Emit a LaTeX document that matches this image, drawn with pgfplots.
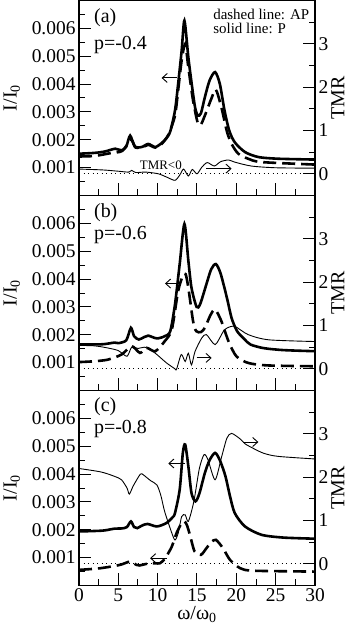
\documentclass[border=0pt]{standalone}
\usepackage{fontspec}
\setmainfont{Liberation Serif}
\usepackage{pgfplots}
\pgfplotsset{compat=1.18}
\usetikzlibrary{arrows.meta}
\tikzset{
  arr/.style={black, line width=0.9bp, -{Straight Barb[length=5bp,width=9bp]}},
  lab/.style={font=\fontsize{20}{22}\selectfont, inner sep=0pt}
}
\pgfplotsset{
  common/.style={scale only axis, width=236bp, height=195bp, xmin=0, xmax=30,
    tick align=inside, major tick length=12bp, minor tick length=6bp,
    every tick/.style={black, line width=1bp},
    axis line style={line width=1.5bp},
    tick label style={font=\fontsize{19.5}{22}\selectfont},
    /pgf/number format/assume math mode=true,
    clip=true},
  leftax/.style={common, ymin=0, ymax=7, tick pos=left,
    xtick={0,5,...,30}, minor xtick={2.5,7.5,...,27.5},
    ytick={1,2,3,4,5,6}, minor ytick={0.5,1.5,...,6.5},
    yticklabels={0.001,0.002,0.003,0.004,0.005,0.006},
    ylabel={I/I\textsubscript{0}},
    every axis y label/.style={at={(axis description cs:-0.285,0.5)}, rotate=90, anchor=center, font=\fontsize{20}{22}\selectfont},
    every axis x label/.style={at={(axis description cs:0.5,-0.15)}, anchor=center, font=\fontsize{20}{22}\selectfont}},
  rightax/.style={common, ymin=-0.5, ymax=4, axis y line*=right, axis x line=none,
    ytick={0,1,2,3}, minor ytick={-0.5,0.5,1.5,2.5,3.5},
    ylabel={TMR},
    every axis y label/.style={at={(axis description cs:1.097,0.5)}, rotate=90, anchor=center, font=\fontsize{20}{22}\selectfont}},
  P/.style={black, line width=2.6bp, smooth, tension=0.45},
  AP/.style={black, line width=2.6bp, dash pattern=on 13bp off 6bp, smooth, tension=0.45},
  TMR/.style={black, line width=0.9bp, smooth, tension=0.45},
  zero/.style={black, line width=1.1bp, dash pattern=on 1.2bp off 3.3bp}
}
\begin{document}
\begin{tikzpicture}
\path[use as bounding box] (-79bp,-48.5bp) rectangle (274bp,585.5bp);
% ---------------- panel (a) ----------------
\begin{axis}[leftax, at={(0,390bp)}, xticklabels=\empty]
\addplot[AP] coordinates {(0,1.40) (2,1.42) (4,1.52) (5.5,1.60) (6.6,2.0) (7.2,1.72) (8.0,1.72) (8.8,1.82) (9.7,1.72) (10.5,1.85) (11.4,2.2) (12.2,2.87) (12.6,3.77) (13.05,4.85) (13.5,5.44) (13.9,4.6) (14.5,3.41) (15.1,2.6) (15.5,2.55) (16.0,2.87) (16.9,3.53) (17.4,3.8) (18.1,3.17) (18.8,2.3) (19.4,1.85) (20.25,1.50) (21.5,1.32) (23.2,1.2) (30,1.11)};
\addplot[P] coordinates {(0,1.50) (2,1.53) (3.3,1.58) (4.6,1.68) (5.4,1.62) (6.0,1.75) (6.5,2.15) (7.1,1.75) (7.97,1.74) (8.8,1.85) (9.7,1.74) (10.5,1.88) (11.1,2.05) (11.6,2.3) (12.2,3.05) (12.6,4.0) (13.05,5.2) (13.4,6.28) (13.9,4.96) (14.33,4.0) (14.75,3.17) (15.1,2.87) (15.5,2.95) (16.0,3.53) (16.6,4.13) (17.3,4.43) (17.9,4.01) (18.5,3.05) (19.1,2.33) (19.8,1.91) (21.1,1.56) (22.8,1.38) (25.3,1.32) (30,1.29)};
\draw[arr] (axis cs:12.4,4.22) -- (axis cs:10.5,4.22);
\node[lab, anchor=west] at (axis cs:1.9,6.38) {(a)};
\node[lab, anchor=west] at (axis cs:1.9,5.42) {p=-0.4};
\node[anchor=west, inner sep=0pt, font=\fontsize{15}{17}\selectfont, align=left] at (axis cs:17.05,6.25) {dashed line: AP\\[-2bp]solid line: P};
\node[inner sep=0pt, font=\fontsize{13}{15}\selectfont] at (axis cs:10.4,1.07) {TMR<0};
\end{axis}
\begin{axis}[rightax, at={(0,390bp)}]
\addplot[zero] coordinates {(0,0) (30,0)};
\addplot[TMR] coordinates {(0,0.11) (3,0.09) (5,0.06) (6.3,0.04) (6.7,0.08) (7.2,0.03) (8.5,0.04) (10.1,0.0) (11.2,-0.08) (12.2,-0.15) (12.8,-0.03) (13.3,0.11) (13.9,-0.05) (14.4,0.1) (15.0,0.0) (15.6,0.15) (16.3,0.26) (17.2,0.18) (18.0,0.28) (19.0,0.32) (19.8,0.27) (21.9,0.18) (25,0.14) (30,0.13)};
\draw[arr] (axis cs:16.2,0.12) -- (axis cs:19.4,0.12);
\end{axis}
% ---------------- panel (b) ----------------
\begin{axis}[leftax, at={(0,195bp)}, xticklabels=\empty]
\addplot[AP] coordinates {(0,1.02) (2,1.05) (3.7,1.11) (5.4,1.29) (6.7,1.59) (7.75,1.35) (8.6,1.53) (9.7,1.41) (10.9,1.77) (11.8,2.19) (12.6,3.57) (13.2,4.12) (13.55,4.18) (13.9,3.69) (14.5,2.49) (14.9,2.13) (15.5,2.10) (16.0,2.25) (16.7,2.7) (17.3,2.91) (18.1,2.49) (19.0,1.77) (20.0,1.23) (21.5,0.99) (24,0.9) (30,0.87)};
\addplot[P] coordinates {(0,1.65) (3,1.66) (4.5,1.72) (5.0,1.70) (6.0,1.80) (6.6,2.25) (7.0,1.95) (7.6,1.83) (8.3,1.92) (8.8,1.97) (9.9,1.87) (10.9,1.95) (11.6,2.13) (12.2,3.09) (12.8,4.54) (13.4,5.98) (13.9,4.66) (14.3,3.69) (14.95,3.0) (15.4,3.1) (16.2,3.82) (16.8,4.35) (17.4,4.54) (18.0,4.2) (18.8,3.33) (19.4,2.6) (20.1,2.13) (21.0,1.85) (21.8,1.65) (23.5,1.52) (26,1.45) (30,1.41)};
\draw[arr] (axis cs:12.84,3.84) -- (axis cs:10.93,3.84);
\draw[arr] (axis cs:14.96,1.17) -- (axis cs:16.86,1.17);
\node[lab, anchor=west] at (axis cs:1.9,6.37) {(b)};
\node[lab, anchor=west] at (axis cs:1.9,5.6) {p=-0.6};
\end{axis}
\begin{axis}[rightax, at={(0,195bp)}]
\addplot[zero] coordinates {(0,0) (30,0)};
\addplot[TMR] coordinates {(0,0.54) (2,0.53) (3.7,0.48) (5.0,0.42) (6.1,0.29) (6.7,0.5) (7.5,0.47) (8.3,0.5) (9.0,0.45) (9.9,0.33) (11.1,0.14) (12.2,0.0) (12.4,-0.01) (13.0,0.33) (13.5,0.17) (13.9,0.36) (14.3,0.09) (14.75,0.40) (15.6,0.71) (16.2,0.79) (17.3,0.56) (18.3,0.85) (18.8,0.94) (19.8,0.98) (21.5,0.79) (24.1,0.67) (30,0.63)};
\end{axis}
% ---------------- panel (c) ----------------
\begin{axis}[leftax, at={(0,0)}, xlabel={ω/ω\textsubscript{0}}]
\addplot[AP] coordinates {(0,0.56) (2.7,0.62) (5.2,0.74) (6.5,0.86) (7.3,0.74) (7.7,0.72) (9.0,0.80) (10.3,0.80) (11.0,1.0) (11.8,1.40) (12.4,1.88) (13.05,2.24) (13.4,2.3) (13.7,2.18) (14.1,1.82) (14.7,1.22) (15.5,1.10) (16.2,1.34) (16.8,1.55) (17.4,1.64) (18.3,1.34) (19.2,0.92) (20.5,0.62) (22.2,0.53) (30,0.50)};
\addplot[P] coordinates {(0,1.94) (3,1.97) (4.5,2.04) (5.5,2.05) (6.1,2.10) (6.6,2.30) (7.0,2.10) (7.4,2.06) (8.0,2.15) (8.7,2.21) (9.9,2.12) (11.1,2.24) (11.9,2.45) (12.2,2.6) (12.8,3.44) (13.2,4.76) (13.5,5.06) (13.9,4.28) (14.3,3.32) (14.8,3.02) (15.3,3.3) (16.0,4.04) (16.6,4.5) (17.3,4.76) (17.9,4.5) (18.6,3.94) (19.2,3.2) (19.8,2.60) (21.1,2.12) (23.2,1.82) (26,1.72) (30,1.68)};
\draw[arr] (axis cs:13.47,4.38) -- (axis cs:11.35,4.38);
\draw[arr] (axis cs:11.15,0.98) -- (axis cs:9.03,0.98);
\draw[arr] (axis cs:20.9,5.15) -- (axis cs:22.8,5.15);
\node[lab, anchor=west] at (axis cs:1.9,6.41) {(c)};
\node[lab, anchor=west] at (axis cs:1.9,5.63) {p=-0.8};
\end{axis}
\begin{axis}[rightax, at={(0,0)}]
\addplot[zero] coordinates {(0,0) (30,0)};
\addplot[TMR] coordinates {(0,2.20) (2.8,2.12) (4.5,2.02) (5.4,1.94) (6.1,1.75) (6.4,1.61) (6.9,1.80) (7.8,2.07) (8.2,2.05) (9.1,1.92) (9.9,1.82) (10.4,1.58) (10.9,1.20) (11.8,0.71) (12.2,0.55) (12.6,0.70) (13.05,1.09) (13.5,1.13) (13.9,0.98) (14.6,1.44) (15.3,2.2) (15.9,2.52) (16.4,2.40) (17.3,1.94) (18.1,2.45) (18.8,2.90) (19.4,3.01) (20.5,2.88) (21.1,2.77) (22.2,2.66) (23.5,2.55) (25.3,2.48) (30,2.42)};
\end{axis}
\end{tikzpicture}
\end{document}
